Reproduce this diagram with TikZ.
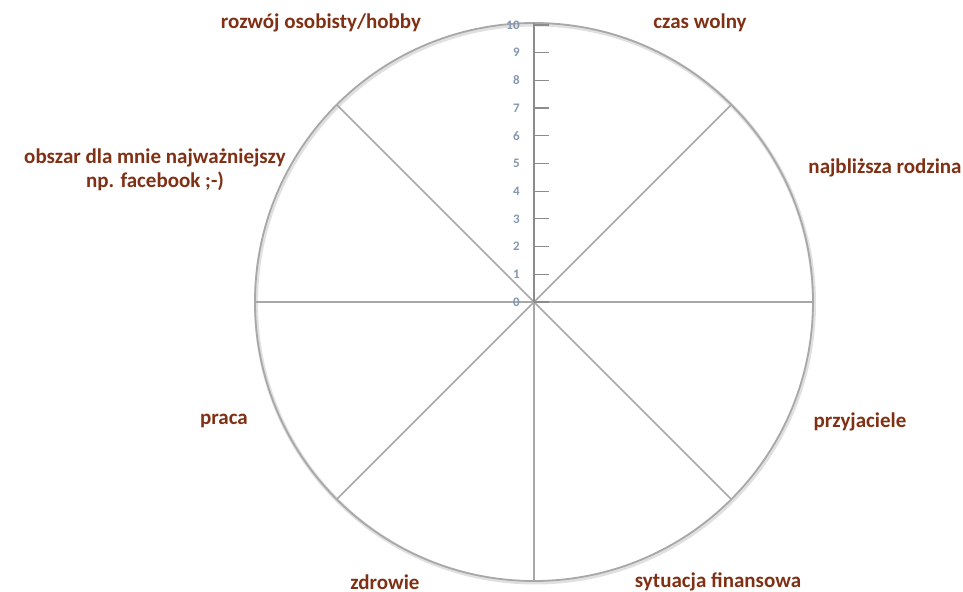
\documentclass[tikz,border=0pt]{standalone}
\usepackage{fontspec}
\setmainfont{Carlito}
\usetikzlibrary{calc}
\definecolor{areabrown}{RGB}{128,48,20}
\definecolor{scaleblue}{RGB}{132,151,176}
\definecolor{spokegray}{RGB}{168,168,168}
\definecolor{axisgray}{RGB}{140,140,140}
\tikzset{
  area/.style={font=\bfseries\fontsize{10.5}{12}\selectfont,text=areabrown,align=center,inner sep=0pt},
  spoke/.style={draw=spokegray,line width=0.8pt},
  rim/.style={draw=spokegray,line width=0.9pt},
  rimshade/.style={draw=black!12,line width=2pt},
  axisline/.style={draw=axisgray,line width=1.3pt},
  tickmark/.style={draw=axisgray,line width=0.6pt},
  scalenum/.style={font=\bfseries\fontsize{6.5}{7}\selectfont,text=scaleblue,anchor=east,inner sep=0pt}
}
\begin{document}
\begin{tikzpicture}[x=0.5pt,y=-0.5pt]
\useasboundingbox (0,0) rectangle (963,592);
\coordinate (O) at (534,302);
\foreach \a in {0,45,...,315}{\coordinate (S\a) at ($(O)+(\a:279)$);}
% wheel
\draw[rimshade] ($(O)+(1,1.5)$) circle (279);
\draw[rim] (O) circle (279);
\foreach \a in {0,45,90,135,180,225,315}{\draw[spoke] (O) -- (S\a);}
% scale 0..10
\draw[axisline] (O) -- (S270);
\foreach \i in {0,...,10}{
  \draw[tickmark] ($(O)+(0,-27.7*\i)$) -- ++(15,0);
  \node[scalenum] (n\i) at ($(O)+(-14,-27.7*\i)$) {\i};
}
% areas
\node[area] (hobby) at (321,23) {rozwój osobisty/hobby};
\node[area] (wolny) at (700,23) {czas wolny};
\node[area] (rodzina) at (885,168) {najbliższa rodzina};
\node[area] (facebook) at (155,170) {obszar dla mnie najważniejszy\\np. facebook ;-)};
\node[area] (praca) at (224,421) {praca};
\node[area] (przyjaciele) at (860,422) {przyjaciele};
\node[area] (zdrowie) at (385,582) {zdrowie};
\node[area] (finanse) at (718,582) {sytuacja finansowa};
\end{tikzpicture}
\end{document}
